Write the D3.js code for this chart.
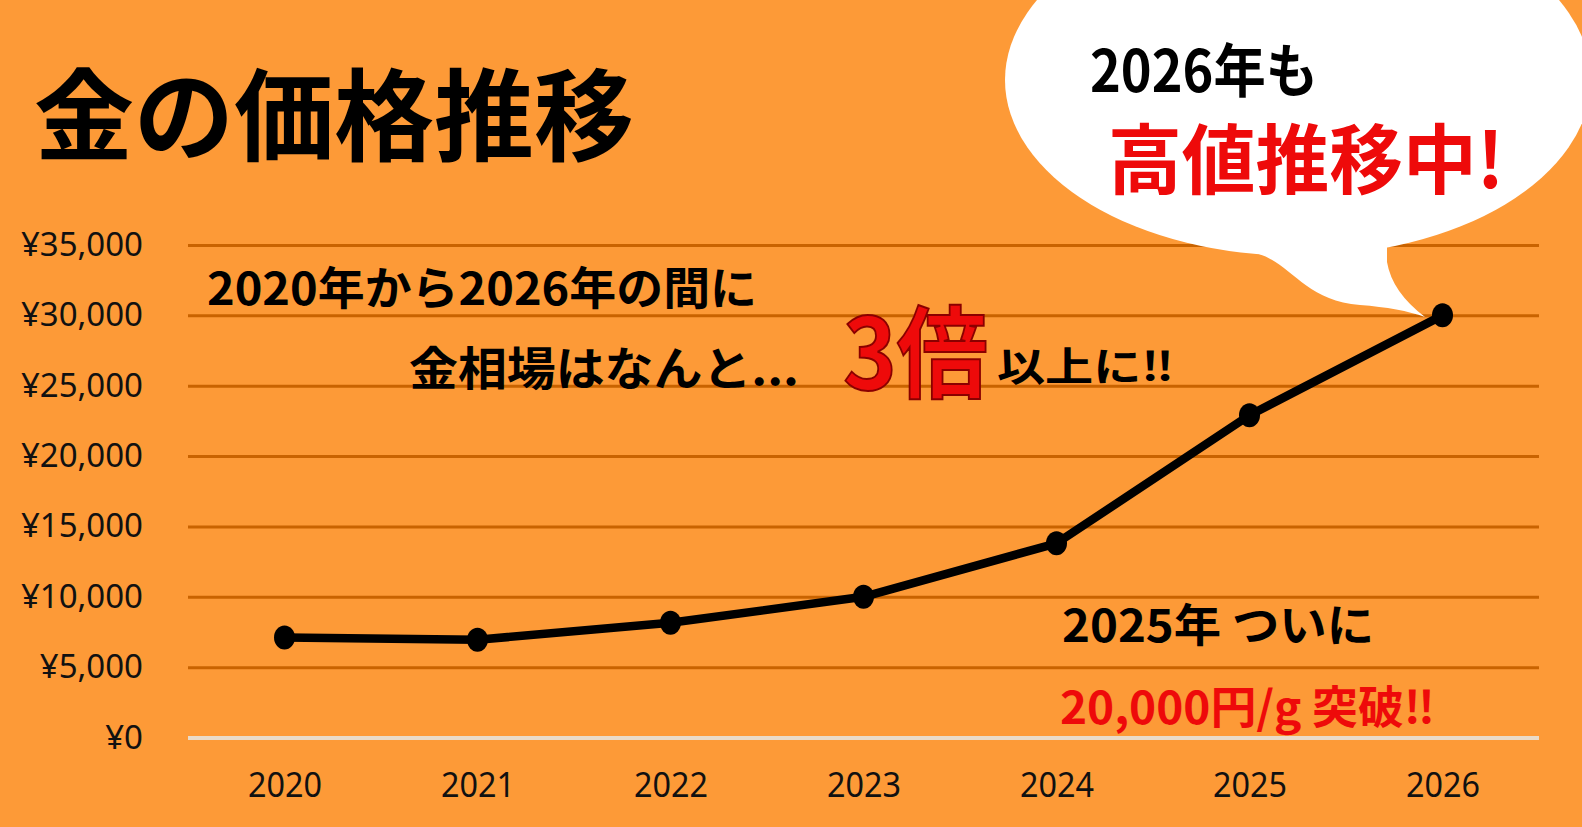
<!DOCTYPE html>
<html lang="ja">
<head>
<meta charset="UTF-8">
<title>金の価格推移</title>
<script src="https://cdn.jsdelivr.net/npm/d3@7"></script>
<style>
  body { margin: 0; background: #FD9A37; }
  svg { display: block; }
</style>
</head>
<body>
<div id="container"></div>
<script>
// data (円/g)
const years = ["2020", "2021", "2022", "2023", "2024", "2025", "2026"];
const prices = [7100, 6950, 8150, 10000, 13800, 22900, 30000];
const yTicks = [0, 5000, 10000, 15000, 20000, 25000, 30000, 35000];

const w = 1582, h = 827;
const plotL = 188, plotR = 1539, plotT = 245, plotB = 737.5;
const jp = "'Noto Sans CJK JP', 'Noto Sans', sans-serif";

const svg = d3.select("#container").append("svg").attr("width", w).attr("height", h);
svg.append("rect").attr("width", w).attr("height", h).attr("fill", "#FD9A37");

const x = d3.scalePoint(years, [plotL, plotR]).padding(0.5);
const y = d3.scaleLinear([0, 35000], [plotB, plotT]);

// gridlines + yen labels
const yAxis = svg.append("g").attr("transform", `translate(${plotL},0)`)
  .call(d3.axisLeft(y).tickValues(yTicks).tickSize(-(plotR - plotL)).tickPadding(45)
    .tickFormat(d => "¥" + d3.format(",")(d)));
yAxis.select(".domain").remove();
yAxis.selectAll("line")
  .attr("stroke", d => d === 0 ? "#EADBC8" : "#C96300")
  .attr("stroke-width", d => d === 0 ? 4 : 3);
yAxis.selectAll("text").attr("font-family", "'Noto Sans', sans-serif").attr("font-size", 33).attr("fill", "#111");

// year labels
const xAxis = svg.append("g").attr("transform", `translate(0,${plotB})`)
  .call(d3.axisBottom(x).tickSize(0).tickPadding(35));
xAxis.select(".domain").remove();
xAxis.selectAll("text").attr("font-family", "'Noto Sans', sans-serif").attr("font-size", 34).attr("fill", "#111")
  .attr("textLength", 74).attr("lengthAdjust", "spacingAndGlyphs");

// speech bubble
const bubble = svg.append("g").attr("fill", "#fff");
bubble.append("ellipse").attr("cx", 1298).attr("cy", 80).attr("rx", 293).attr("ry", 176);
bubble.append("path").attr("d", "M1250,252 C1290,258 1300,300 1360,305 Q1400,308 1425,317 Q1392,292 1387,262 L1387,240 Z");

// price line
svg.append("path").datum(prices)
  .attr("d", d3.line((d, i) => x(years[i]), d => y(d)))
  .attr("fill", "none").attr("stroke", "#000").attr("stroke-width", 8.5).attr("stroke-linejoin", "round");
svg.selectAll(".dot").data(prices).join("ellipse").attr("class", "dot")
  .attr("cx", (d, i) => x(years[i])).attr("cy", d => y(d))
  .attr("rx", 10.5).attr("ry", 12).attr("fill", "#000");

// texts
function label(txt, tx, ty, size, fill, len) {
  const t = svg.append("text").attr("x", tx).attr("y", ty)
    .attr("font-family", jp).attr("font-weight", 700).attr("font-size", size).attr("fill", fill).text(txt);
  if (len) t.attr("textLength", len).attr("lengthAdjust", "spacingAndGlyphs");
  return t;
}
const red = "#EE0A0A";
label("金の価格推移", 34, 153, 100, "#000");
label("2026年も", 1090, 92, 58, "#000", 228);
label("高値推移中!", 1108, 188, 76, red, 396);
label("2020年から2026年の間に", 207, 305, 45, "#000", 550);
label("金相場はなんと...", 409, 385, 46, "#000", 390);
label("3倍", 843, 390, 100, red, 145).attr("stroke", "#8A0000").attr("stroke-width", 2);
label("以上に‼", 997, 381, 40, "#000", 177);
label("2025年 ついに", 1062, 642, 45, "#000", 312);
label("20,000円/g 突破‼", 1060, 724, 45, red, 375);
</script>
</body>
</html>
